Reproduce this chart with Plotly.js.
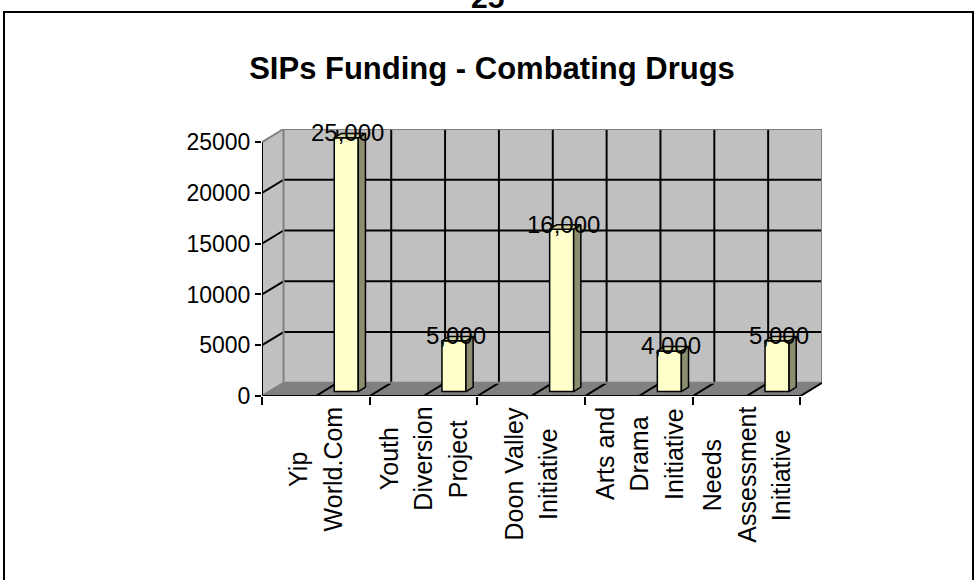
<!DOCTYPE html>
<html>
<head>
<meta charset="utf-8">
<script src="https://cdn.plot.ly/plotly-3.0.1.min.js"></script>
<style>html,body{margin:0;padding:0;background:#fff;}#chart{width:976px;height:580px;}</style>
</head>
<body>
<div id="chart"></div>
<script>
// ---- data ----
const categories = ["Yip<br>World.Com", "Youth<br>Diversion<br>Project", "Doon Valley<br>Initiative", "Arts and<br>Drama<br>Initiative", "Needs<br>Assessment<br>Initiative"];
const values = [25000, 5000, 16000, 4000, 5000];
const valueLabels = ["25,000", "5,000", "16,000", "4,000", "5,000"];
const yTickVals = [0, 5000, 10000, 15000, 20000, 25000];
const yTickText = ["0", "5000", "10000", "15000", "20000", "25000"];
const chartTitle = "SIPs Funding - Combating Drugs";
const pageNumber = "25";

// ---- layout geometry ----
const W = 976, H = 580;
const M = {l: 262, r: 154, t: 129, b: 184};
const plotW = W - M.l - M.r, plotH = H - M.t - M.b;
const DX = 0.2;          // depth offset in category units
const DY = 1300;         // depth offset in value units
const YMAX = 25000;
const N = categories.length;
const FONT = "Liberation Sans, Arial, sans-serif";
const GRAY = "#808080";
const px2x = px => (px - M.l) / plotW;
const py2y = py => (H - M.b - py) / plotH;

// bar geometry (category units)
const barOff = 0.671, barW = 0.223;
const dx3 = DX / 3, dy3 = DY / 3;

const shapes = [];
function line(x0, y0, x1, y1, color, w, ref) {
  shapes.push({type: 'line', xref: ref || 'x', yref: ref || 'y', x0, y0, x1, y1,
    line: {color, width: w}, layer: 'below'});
}
function poly(pts, fill) {
  const d = 'M' + pts.map(p => p[0] + ',' + p[1]).join('L') + 'Z';
  shapes.push({type: 'path', xref: 'x', yref: 'y', path: d, fillcolor: fill,
    line: {width: 0}, layer: 'below'});
}
// walls & floor
poly([[0, 0], [0, YMAX], [DX, YMAX + DY], [DX, DY]], '#C0C0C0');
poly([[DX, DY], [DX, YMAX + DY], [N + DX, YMAX + DY], [N + DX, DY]], '#C0C0C0');
poly([[0, 0], [N, 0], [N + DX, DY], [DX, DY]], '#808080');
// back-wall horizontal gridlines + left-wall diagonals
for (let i = 1; i < yTickVals.length - 1; i++) {
  const v = yTickVals[i];
  line(DX, v + DY, N + DX, v + DY, '#000', 2);
  line(0, v, DX, v + DY, '#000', 2);
}
// back-wall vertical gridlines and floor diagonals (every half category)
for (let j = 1; j < 2 * N; j++) {
  const x = j * 0.5;
  line(x + DX, DY, x + DX, YMAX + DY, '#000', 2);
  line(x, 0, x + DX, DY, '#000', 2);
}
// wall borders
line(DX, YMAX + DY, N + DX, YMAX + DY, GRAY, 2);
line(0, YMAX, DX, YMAX + DY, GRAY, 2);
line(DX, DY, DX, YMAX + DY, GRAY, 2);
line(N + DX, DY, N + DX, YMAX + DY, GRAY, 2);
line(DX, DY, N + DX, DY, GRAY, 2);
line(0, 0, DX, DY, GRAY, 2);
line(N, 0, N + DX, DY, '#000', 2);
// front axes
line(0, 0, 0, YMAX, '#000', 2);
line(0, 0, N, 0, '#000', 2);
// outer page frame
shapes.push({type: 'rect', xref: 'paper', yref: 'paper', x0: px2x(4), x1: px2x(973),
  y0: py2y(600), y1: py2y(12), line: {color: '#000', width: 2}, fillcolor: 'rgba(0,0,0,0)', layer: 'above'});

// ---- traces ----
const barX = values.map((v, k) => k + barOff + barW / 2);
const frontFace = {
  type: 'bar', x: barX, y: values, base: values.map(() => dy3), width: barW,
  marker: {color: '#FFFFCC', line: {color: '#000', width: 1.5}},
  hoverinfo: 'skip', showlegend: false
};
const sideX = [], sideY = [], topX = [], topY = [];
values.forEach((v, k) => {
  const xl = k + barOff, xr = xl + barW, b = dy3;
  sideX.push(xr, xr, xr + dx3, xr + dx3, xr, null);
  sideY.push(b, b + v, b + v + dy3, b + dy3, b, null);
  topX.push(xl, xr, xr + dx3, xl + dx3, xl, null);
  topY.push(b + v, b + v, b + v + dy3, b + v + dy3, b + v, null);
});
const sideFace = {type: 'scatter', mode: 'lines', x: sideX, y: sideY, fill: 'toself',
  fillcolor: '#8C8C6E', line: {color: '#000', width: 1.5}, hoverinfo: 'skip', showlegend: false};
const topFace = {type: 'scatter', mode: 'lines', x: topX, y: topY, fill: 'toself',
  fillcolor: '#D2D2A8', line: {color: '#000', width: 1.5}, hoverinfo: 'skip', showlegend: false};

// ---- annotations ----
const annotations = [];
values.forEach((v, k) => {
  annotations.push({xref: 'x', yref: 'y', x: barX[k] + 0.015, y: v + dy3, yshift: 5,
    text: valueLabels[k], showarrow: false, xanchor: 'center', yanchor: 'middle',
    font: {family: FONT, size: 24, color: '#000'}});
});
// category labels: one rotated annotation per line, lines centred on the longest one
const CAT_SIZE = 25, CAT_GAP = 34.5, CAT_TOP = 407;
const ctx = document.createElement('canvas').getContext('2d');
ctx.font = CAT_SIZE + 'px "Liberation Sans", Arial, sans-serif';
categories.forEach((c, k) => {
  const lines = c.split('<br>');
  const maxLen = Math.max(...lines.map(s => ctx.measureText(s).width));
  lines.forEach((s, i) => {
    annotations.push({xref: 'x', yref: 'paper', x: k + 0.5, y: py2y(CAT_TOP + maxLen / 2),
      xshift: (i - (lines.length - 1) / 2) * CAT_GAP,
      text: s, showarrow: false, textangle: -90,
      xanchor: 'center', yanchor: 'middle',
      font: {family: FONT, size: CAT_SIZE, color: '#000'}});
  });
});
annotations.push({xref: 'paper', yref: 'paper', x: px2x(487), y: py2y(-2),
  text: '<b>' + pageNumber + '</b>', showarrow: false, xanchor: 'center', yanchor: 'middle',
  font: {family: FONT, size: 30, color: '#000'}});

const layout = {
  width: W, height: H, autosize: false,
  margin: M,
  paper_bgcolor: '#fff', plot_bgcolor: 'rgba(0,0,0,0)',
  showlegend: false,
  title: {text: '<b>' + chartTitle + '</b>', xref: 'container', yref: 'container',
    x: 492 / W, y: 1 - 68 / H, xanchor: 'center', yanchor: 'middle',
    font: {family: FONT, size: 31, color: '#000'}},
  xaxis: {type: 'linear', range: [0, N + DX], showgrid: false, zeroline: false, showline: false,
    tickmode: 'array', tickvals: categories.map((c, k) => k).concat([N]), ticktext: categories.map(() => '').concat(['']),
    ticks: 'outside', ticklen: 8, tickwidth: 2, tickcolor: '#000', fixedrange: true},
  yaxis: {type: 'linear', range: [0, YMAX + DY], showgrid: false, zeroline: false, showline: false,
    tickmode: 'array', tickvals: yTickVals, ticktext: yTickText,
    ticks: 'outside', ticklen: 6, tickwidth: 2, tickcolor: '#000',
    tickfont: {family: FONT, size: 23, color: '#000'}, fixedrange: true},
  shapes, annotations
};

Plotly.newPlot('chart', [frontFace, sideFace, topFace], layout, {staticPlot: true, displayModeBar: false});
</script>
</body>
</html>
